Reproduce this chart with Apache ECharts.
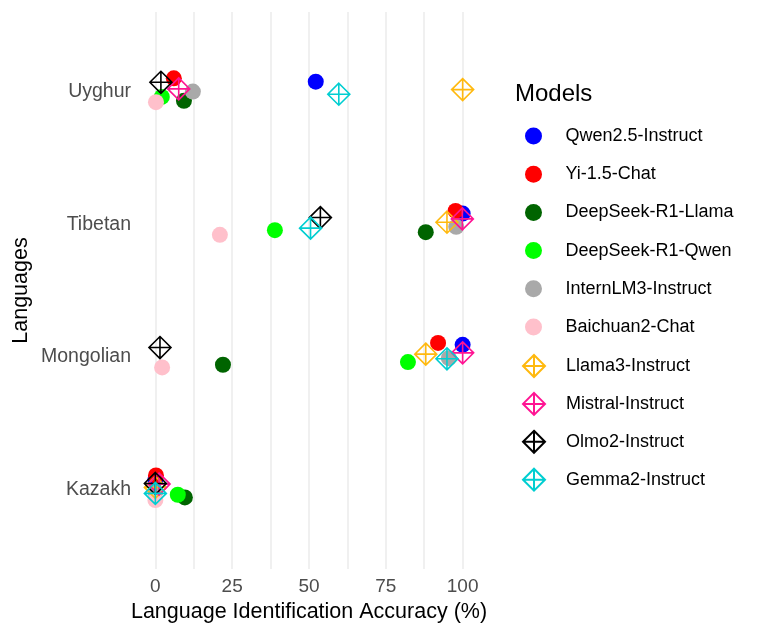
<!DOCTYPE html>
<html lang="en">
<head>
    <meta charset="UTF-8">
    <title>Language identification</title>
    <script src="https://cdn.jsdelivr.net/npm/echarts@6.0.0/dist/echarts.min.js"></script>
</head>
<body style="margin:0">
<div id="main" style="width:761px;height:636px;"></div>
<script type="text/javascript">
    // languages, bottom to top
    var languages = ['Kazakh', 'Mongolian', 'Tibetan', 'Uyghur'];
    var models = ['Qwen2.5-Instruct', 'Yi-1.5-Chat', 'DeepSeek-R1-Llama', 'DeepSeek-R1-Qwen',
        'InternLM3-Instruct', 'Baichuan2-Chat', 'Llama3-Instruct', 'Mistral-Instruct',
        'Olmo2-Instruct', 'Gemma2-Instruct'];
    var colors = ['#0000FF', '#FF0000', '#006400', '#00FF00', '#A9A9A9', '#FFC0CB',
        '#FFB90F', '#FF1493', '#000000', '#00CED1'];
    var diamondModels = ['Llama3-Instruct', 'Mistral-Instruct', 'Olmo2-Instruct', 'Gemma2-Instruct'];

    // accuracy (%) per model, in languages order
    var accuracy = {
        'Qwen2.5-Instruct':   [0, 100, 100, 52.2],
        'Yi-1.5-Chat':        [0.2, 92, 97.7, 6],
        'DeepSeek-R1-Llama':  [9.6, 22, 88, 9.3],
        'DeepSeek-R1-Qwen':   [7.3, 82.2, 38.9, 2.1],
        'InternLM3-Instruct': [0, 95.5, 97.9, 12.2],
        'Baichuan2-Chat':     [0, 2.2, 21, 0.2],
        'Llama3-Instruct':    [0, 88, 94.9, 100],
        'Mistral-Instruct':   [1.2, 100, 99.9, 7.6],
        'Olmo2-Instruct':     [0, 1.5, 53.7, 1.8],
        'Gemma2-Instruct':    [0, 94.9, 50.5, 59.7]
    };
    // vertical jitter (category units)
    var jitter = {
        'Qwen2.5-Instruct':   [0.075, 0.09, 0.08, 0.075],
        'Yi-1.5-Chat':        [0.105, 0.105, 0.10, 0.10],
        'DeepSeek-R1-Llama':  [-0.06, -0.06, -0.06, -0.07],
        'DeepSeek-R1-Qwen':   [-0.04, -0.04, -0.045, -0.04],
        'InternLM3-Instruct': [-0.015, -0.01, -0.02, 0],
        'Baichuan2-Chat':     [-0.08, -0.08, -0.08, -0.08],
        'Llama3-Instruct':    [0.015, 0.02, 0.015, 0.015],
        'Mistral-Instruct':   [0.04, 0.03, 0.04, 0.02],
        'Olmo2-Instruct':     [0.045, 0.07, 0.05, 0.07],
        'Gemma2-Instruct':    [-0.03, -0.015, -0.03, -0.02]
    };
    var xTicks = [0, 25, 50, 75, 100];
    var xGrid = [0, 12.5, 25, 37.5, 50, 62.5, 75, 87.5, 100];

    var diamondPath = 'path://M10,0 L20,10 L10,20 L0,10 Z M10,0 L10,20 M0,10 L20,10';
    var font = 'Liberation Sans, Arial, sans-serif';

    var myChart = echarts.init(document.getElementById('main'));

    var series = models.map(function (m, k) {
        var isDiamond = diamondModels.indexOf(m) >= 0;
        var s = {
            name: m,
            type: 'scatter',
            data: languages.map(function (l, i) {
                return [accuracy[m][i], i + 1 + jitter[m][i]];
            })
        };
        if (isDiamond) {
            s.symbol = diamondPath;
            s.symbolSize = 22;
            s.itemStyle = {color: 'rgba(0,0,0,0)', borderColor: colors[k], borderWidth: 1.6, opacity: 1};
        } else {
            s.symbol = 'circle';
            s.symbolSize = 16;
            s.itemStyle = {color: colors[k], opacity: 1};
        }
        return s;
    });

    var option = {
        animation: false,
        title: {
            text: 'Models',
            left: 510,
            top: 77,
            textStyle: {fontFamily: font, fontSize: 24, fontWeight: 'normal', color: '#000'}
        },
        legend: [
            {
                data: models.filter(function (m) { return diamondModels.indexOf(m) < 0; }),
                orient: 'vertical',
                left: 520,
                top: 122,
                itemWidth: 54,
                itemHeight: 17,
                itemGap: 20.2,
                selectedMode: false,
                textStyle: {fontFamily: font, fontSize: 18, color: '#000'}
            },
            {
                data: diamondModels,
                orient: 'vertical',
                left: 517,
                top: 349,
                itemWidth: 54,
                itemHeight: 22,
                itemGap: 13.9,
                selectedMode: false,
                textStyle: {fontFamily: font, fontSize: 18, color: '#000'}
            }
        ],
        grid: {left: 140, right: 283, top: 12, bottom: 67},
        xAxis: {
            type: 'value',
            min: -5,
            max: 105,
            name: 'Language Identification Accuracy (%)',
            nameLocation: 'middle',
            nameGap: 29,
            nameTextStyle: {fontFamily: font, fontSize: 21.5, color: '#000'},
            axisLine: {show: false},
            axisTick: {show: false, customValues: xGrid},
            axisLabel: {customValues: xTicks, margin: 8, fontFamily: font, fontSize: 19, color: '#4D4D4D'},
            splitLine: {show: true, lineStyle: {color: '#EBEBEB', width: 1.5}}
        },
        yAxis: {
            type: 'value',
            min: 0.4,
            max: 4.6,
            name: 'Languages',
            nameLocation: 'middle',
            nameGap: 108,
            nameRotate: 90,
            nameTextStyle: {fontFamily: font, fontSize: 21.5, color: '#000'},
            axisLine: {show: false},
            axisTick: {show: false},
            splitLine: {show: false},
            axisLabel: {
                customValues: [1, 2, 3, 4],
                margin: 9,
                fontFamily: font,
                fontSize: 19.5,
                color: '#4D4D4D',
                formatter: function (v) { return languages[Math.round(v) - 1]; }
            }
        },
        series: series
    };
    myChart.setOption(option);
</script>
</body>
</html>
